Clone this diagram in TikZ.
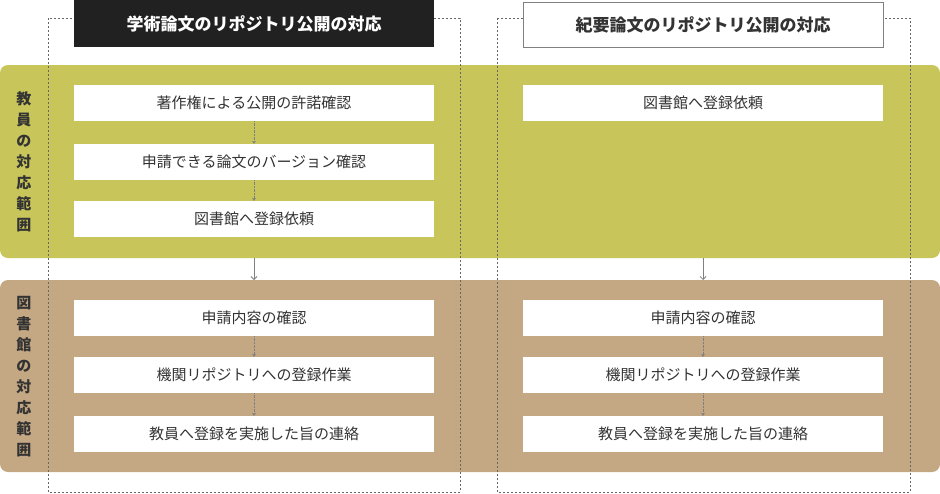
\documentclass[tikz,border=0pt]{standalone}
\usepackage{fontspec}
\setmainfont{Noto Sans CJK JP}
\usetikzlibrary{arrows.meta}
\definecolor{olive}{HTML}{C8C65A}
\definecolor{tan}{HTML}{C4A883}
\definecolor{txt}{HTML}{333333}
\begin{document}
\begin{tikzpicture}[x=1pt,y=-1pt,
  wbox/.style={fill=white,draw=none,minimum width=360pt,minimum height=36pt,inner sep=0,font=\fontsize{15}{18}\selectfont,text=txt},
  dotarr/.style={draw=gray,densely dotted,-{Stealth[length=3pt,width=4pt]}},
  solarr/.style={draw=gray,line width=0.8pt,-{Straight Barb[length=3pt,width=6pt]}},
  vlab/.style={font=\bfseries\fontsize{15}{21}\selectfont,text=txt,align=center,text width=16pt,inner sep=0}]
\useasboundingbox (0,0) rectangle (940,493);
\fill[olive,rounded corners=8pt] (0,65) rectangle (940,258);
\fill[tan,rounded corners=8pt] (0,280) rectangle (940,472);
\draw[gray!80!black,densely dashed,dash pattern=on 2pt off 2pt] (48,18) rectangle (460,492);
\draw[gray!80!black,densely dashed,dash pattern=on 2pt off 2pt] (497,18) rectangle (910,492);
\node[fill=black!87,minimum width=360pt,minimum height=47pt,inner sep=0,text=white,font=\bfseries\fontsize{17}{20}\selectfont] (t1) at (254,23.5) {学術論文のリポジトリ公開の対応};
\node[fill=white,draw=gray,minimum width=360pt,minimum height=45pt,inner sep=0,text=txt,font=\bfseries\fontsize{17}{20}\selectfont] (t2) at (703,24.5) {紀要論文のリポジトリ公開の対応};
\node[vlab] (v1) at (24,162) {教\\員\\の\\対\\応\\範\\囲};
\node[vlab] (v2) at (24,377) {図\\書\\館\\の\\対\\応\\範\\囲};
\node[wbox] (a1) at (254,103) {著作権による公開の許諾確認};
\node[wbox] (a2) at (254,162) {申請できる論文のバージョン確認};
\node[wbox] (a3) at (254,219) {図書館へ登録依頼};
\node[wbox] (b1) at (254,318) {申請内容の確認};
\node[wbox] (b2) at (254,375) {機関リポジトリへの登録作業};
\node[wbox] (b3) at (254,434) {教員へ登録を実施した旨の連絡};
\node[wbox] (c1) at (703,103) {図書館へ登録依頼};
\node[wbox] (d1) at (703,318) {申請内容の確認};
\node[wbox] (d2) at (703,375) {機関リポジトリへの登録作業};
\node[wbox] (d3) at (703,434) {教員へ登録を実施した旨の連絡};
\coordinate (e1) at (254,258); \coordinate (f1) at (254,280);
\coordinate (e2) at (703,258); \coordinate (f2) at (703,280);
\draw[dotarr] (a1.south) -- (a2.north);
\draw[dotarr] (a2.south) -- (a3.north);
\draw[dotarr] (b1.south) -- (b2.north);
\draw[dotarr] (b2.south) -- (b3.north);
\draw[dotarr] (d1.south) -- (d2.north);
\draw[dotarr] (d2.south) -- (d3.north);
\draw[solarr] (e1) -- (f1);
\draw[solarr] (e2) -- (f2);
\end{tikzpicture}
\end{document}
